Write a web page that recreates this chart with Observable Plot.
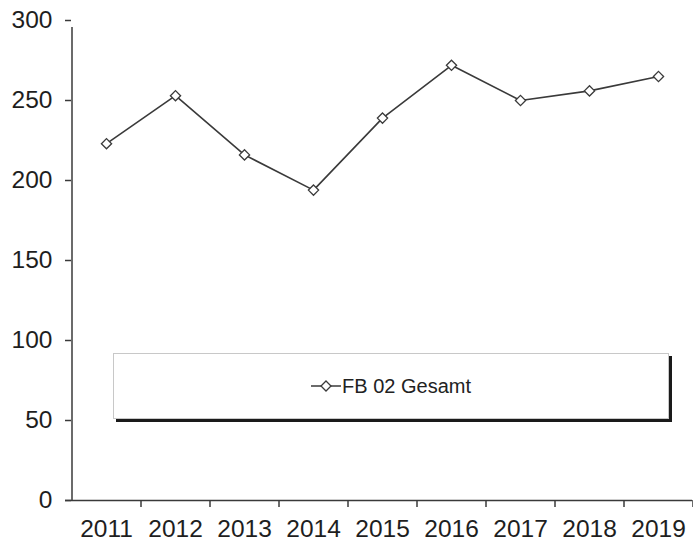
<!DOCTYPE html>
<html>
<head>
<meta charset="utf-8">
<script src="https://cdn.jsdelivr.net/npm/d3@7"></script>
<script src="https://cdn.jsdelivr.net/npm/@observablehq/plot@0.6"></script>
<style>
  html, body { margin: 0; padding: 0; background: #fff; }
  #wrap { position: relative; width: 693px; height: 547px; font-family: "Liberation Sans", Arial, sans-serif; }
  #legend {
    position: absolute; left: 113px; top: 353px; width: 554px; height: 64px;
    background: #fff; border: 1px solid #c8c8c8;
    box-shadow: 3px 3px 0 #1a1a1a;
    display: flex; align-items: center; justify-content: center;
    font-size: 20px; color: #222;
  }
  #legend svg { margin-right: 1px; }
</style>
</head>
<body>
<div id="wrap"></div>
<script>
const years = ["2011","2012","2013","2014","2015","2016","2017","2018","2019"];
const values = [223, 253, 216, 194, 239, 272, 250, 256, 265];
const yTicks = [0, 50, 100, 150, 200, 250, 300];
const seriesName = "FB 02 Gesamt";

const data = years.map((y, i) => ({year: y, value: values[i]}));
const ink = "#3a3a3a";

const chart = Plot.plot({
  width: 693,
  height: 547,
  marginLeft: 71,
  marginRight: 1,
  marginTop: 20,
  marginBottom: 47,
  style: {fontFamily: "'Liberation Sans', Arial, sans-serif", color: "#1e1e1e", background: "#fff"},
  x: {type: "point", domain: years, padding: 0.5},
  y: {domain: [0, 300]},
  marks: [
    Plot.axisY({ticks: yTicks, tickSize: 6, tickPadding: 13, fontSize: 24.5, label: null, stroke: ink, strokeWidth: 1.5}),
    Plot.axisX({tickSize: 0, tickPadding: 19, fontSize: 24.5, label: null}),
    Plot.ruleY([0], {stroke: ink, strokeWidth: 1.5, insetLeft: -6}),
    Plot.ruleX([years[0]], {dx: -34.5, y1: 0, y2: 300, stroke: ink, strokeWidth: 1.5, insetBottom: -7}),
    Plot.ruleX(years.slice(1), {dx: -34.5, y1: 0, y2: 0, stroke: ink, strokeWidth: 1.5, insetBottom: -7}),
    Plot.ruleX([years[years.length - 1]], {dx: 34.5, y1: 0, y2: 0, stroke: ink, strokeWidth: 1.5, insetBottom: -7}),
    Plot.line(data, {x: "year", y: "value", stroke: ink, strokeWidth: 1.6}),
    Plot.dot(data, {x: "year", y: "value", symbol: "diamond2", r: 4.6, fill: "#fff", stroke: ink, strokeWidth: 1.3})
  ]
});

const wrap = document.getElementById("wrap");
wrap.appendChild(chart);

const legend = document.createElement("div");
legend.id = "legend";
legend.innerHTML =
  '<svg width="30" height="14" viewBox="0 0 30 14"><line x1="0" y1="7" x2="30" y2="7" stroke="' + ink + '" stroke-width="1.5"/>' +
  '<path d="M15 2 L20 7 L15 12 L10 7 Z" fill="#fff" stroke="' + ink + '" stroke-width="1.3"/></svg>';
const span = document.createElement("span");
span.textContent = seriesName;
legend.appendChild(span);
wrap.appendChild(legend);
</script>
</body>
</html>
